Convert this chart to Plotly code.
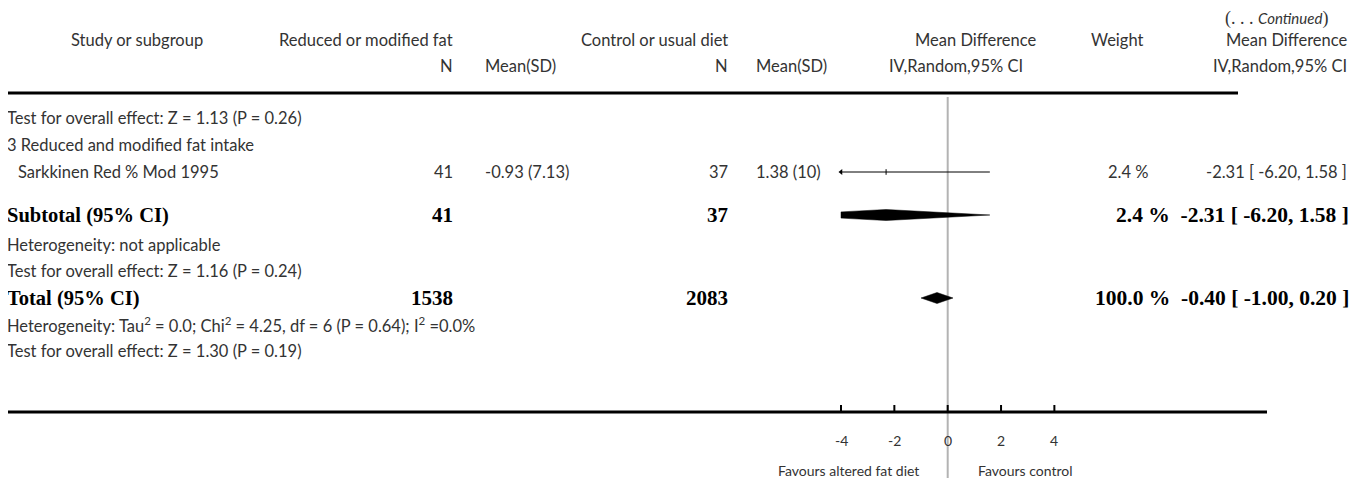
import plotly.graph_objects as go

# study-level data
study = ["Sarkkinen Red % Mod 1995"]
n_fat = [41]
mean_fat = ["-0.93 (7.13)"]
n_ctl = [37]
mean_ctl = ["1.38 (10)"]
weight = [2.4]
md = [-2.31]
md_lo = [-6.20]
md_hi = [1.58]

# pooled rows: subtotal, total
pooled_label = ["Subtotal (95% CI)", "Total (95% CI)"]
pooled_n_fat = [41, 1538]
pooled_n_ctl = [37, 2083]
pooled_weight = [2.4, 100.0]
pooled_md = [-2.31, -0.40]
pooled_lo = [-6.20, -1.00]
pooled_hi = [1.58, 0.20]

tick_vals = [-4, -2, 0, 2, 4]
x_lim = [-4, 4]

# page body has an 8px margin, so the figure is shifted by that
OFF = 8
W, H = 1363 - OFF, 482 - OFF
FONT = "Lato"
SERIF = "Liberation Serif"
GREY = "#333333"
FS = 16.5
BS = 21

# layout constants (screen pixels)
x0_px = 947.7 - OFF
px_per_unit = 26.67
y_head1, y_head2, y_rule = 40, 66, 93
y_rows = [118, 145, 172, 215, 245, 271, 298, 325, 351]
y_axis = 412

fig = go.Figure()
ann = []


def txt(xp, yp, s, anchor="left", bold=False, size=None, family=None, yanchor="middle", yshift=0):
    shift = {"left": -2, "right": 3, "center": 0}[anchor]
    ann.append(dict(
        x=(xp - OFF + shift) / W, xref="paper", y=yp - OFF, yref="y", text=s, showarrow=False,
        xanchor=anchor, yanchor=yanchor, yshift=yshift,
        font=dict(family=family or (SERIF if bold else FONT),
                  size=size or (BS if bold else FS),
                  color="black" if bold else GREY)))


# header
txt(1327, OFF, "(. . . <span style='font-family:Lato;font-size:15px'><i>Continued</i></span>)",
    "right", size=18, family=SERIF, yanchor="top", yshift=2)
txt(137, y_head1, "Study or subgroup", "center")
txt(452, y_head1, "Reduced or modified fat", "right")
txt(727, y_head1, "Control or usual diet", "right")
txt(1035, y_head1, "Mean Difference", "right")
txt(1117, y_head1, "Weight", "center")
txt(1346, y_head1, "Mean Difference", "right")
txt(452, y_head2, "N", "right")
txt(485, y_head2, "Mean(SD)", "left")
txt(727, y_head2, "N", "right")
txt(756, y_head2, "Mean(SD)", "left")
txt(1022, y_head2, "IV,Random,95% CI", "right")
txt(1346, y_head2, "IV,Random,95% CI", "right")

# body text
txt(7, y_rows[0], "Test for overall effect: Z = 1.13 (P = 0.26)")
txt(7, y_rows[1], "3 Reduced and modified fat intake")
for i in range(len(study)):
    y = y_rows[2]
    txt(18, y, study[i])
    txt(452, y, str(n_fat[i]), "right")
    txt(485, y, mean_fat[i])
    txt(727, y, str(n_ctl[i]), "right")
    txt(756, y, mean_ctl[i])
    txt(1147, y, "%.1f %%" % weight[i], "right")
    txt(1346, y, "%.2f [ %.2f, %.2f ]" % (md[i], md_lo[i], md_hi[i]), "right")

for j, yrow in enumerate([y_rows[3], y_rows[6]]):
    txt(7, yrow, "<b>%s</b>" % pooled_label[j], bold=True, size=20.5)
    txt(452, yrow, "<b>%d</b>" % pooled_n_fat[j], "right", bold=True)
    txt(727, yrow, "<b>%d</b>" % pooled_n_ctl[j], "right", bold=True)
    txt(1348, yrow, "<b>%.1f %%  %.2f [ %.2f, %.2f ]</b>" % (
        pooled_weight[j], pooled_md[j], pooled_lo[j], pooled_hi[j]), "right", bold=True, size=21.5)

txt(7, y_rows[4], "Heterogeneity: not applicable")
txt(7, y_rows[5], "Test for overall effect: Z = 1.16 (P = 0.24)")
txt(7, y_rows[7], "Heterogeneity: Tau<sup>2</sup> = 0.0; Chi<sup>2</sup> = 4.25, df = 6 (P = 0.64); I<sup>2</sup> =0.0%")
txt(7, y_rows[8], "Test for overall effect: Z = 1.30 (P = 0.19)")

# null line
fig.add_trace(go.Scatter(x=[0, 0], y=[97 - OFF, 478 - OFF], mode="lines",
                         line=dict(color="#b3b3b3", width=2), hoverinfo="skip"))

# study CI lines
for i in range(len(study)):
    y = y_rows[2] - OFF
    lo = max(md_lo[i], x_lim[0])
    hi = min(md_hi[i], x_lim[1])
    fig.add_trace(go.Scatter(x=[lo, hi], y=[y, y], mode="lines",
                             line=dict(color="black", width=1), hoverinfo="skip"))
    fig.add_trace(go.Scatter(x=[md[i]], y=[y], mode="markers",
                             marker=dict(symbol="line-ns", size=4,
                                         line=dict(color="black", width=1)),
                             hoverinfo="skip"))
    if md_lo[i] < x_lim[0]:
        fig.add_trace(go.Scatter(x=[x_lim[0]], y=[y], mode="markers",
                                 marker=dict(symbol="triangle-left", size=5, color="black"),
                                 hoverinfo="skip"))

# pooled diamonds (clipped to axis limits)
for j, yrow in enumerate([y_rows[3], y_rows[6]]):
    yrow = yrow - OFF
    lo, c, hi = pooled_lo[j], pooled_md[j], pooled_hi[j]
    h = 5.5
    lo_c = max(lo, x_lim[0])
    hi_c = min(hi, x_lim[1])
    fl = (lo_c - lo) / (c - lo)
    fh = (hi - hi_c) / (hi - c)
    xs = [lo_c, c, hi_c, hi_c, c, lo_c, lo_c]
    ys = [yrow - h * fl, yrow - h, yrow - h * fh, yrow + h * fh, yrow + h, yrow + h * fl, yrow - h * fl]
    fig.add_trace(go.Scatter(x=xs, y=ys, mode="lines", fill="toself",
                             fillcolor="black", line=dict(color="black", width=0.5),
                             hoverinfo="skip"))

# axis ticks
for t in tick_vals:
    fig.add_trace(go.Scatter(x=[t, t], y=[y_axis - OFF, y_axis - OFF - 7], mode="lines",
                             line=dict(color="black", width=2), hoverinfo="skip"))
    ann.append(dict(x=t, xref="x", y=440 - OFF, yref="y", text=str(t), showarrow=False,
                    font=dict(family=FONT, size=14, color=GREY)))

ann.append(dict(x=-1.0, xref="x", y=470 - OFF, yref="y", text="Favours altered fat diet",
                showarrow=False, xanchor="right", font=dict(family=FONT, size=14, color=GREY)))
ann.append(dict(x=1.05, xref="x", y=470 - OFF, yref="y", text="Favours control",
                showarrow=False, xanchor="left", font=dict(family=FONT, size=14, color=GREY)))

shapes = [
    dict(type="line", xref="paper", yref="y", x0=(7 - OFF) / W, x1=(1238 - OFF) / W,
         y0=y_rule - OFF, y1=y_rule - OFF, line=dict(color="black", width=3)),
    dict(type="line", xref="paper", yref="y", x0=(7 - OFF) / W, x1=(1267 - OFF) / W,
         y0=y_axis - OFF, y1=y_axis - OFF, line=dict(color="black", width=3)),
]

fig.update_layout(
    width=W, height=H, margin=dict(l=0, r=0, t=0, b=0),
    paper_bgcolor="white", plot_bgcolor="white", showlegend=False,
    xaxis=dict(range=[-x0_px / px_per_unit, (W - x0_px) / px_per_unit], visible=False, fixedrange=True),
    yaxis=dict(range=[H, 0], visible=False, fixedrange=True),
    annotations=ann, shapes=shapes,
)

fig.write_html("out.html")
